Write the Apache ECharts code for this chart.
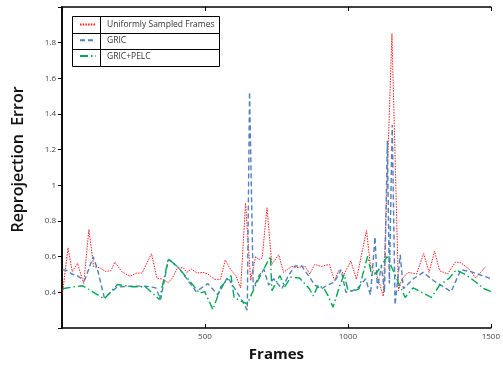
<!DOCTYPE html>
<html>
<head>
<meta charset="utf-8">
<script src="https://cdn.jsdelivr.net/npm/echarts@6/dist/echarts.min.js"></script>
<style>html,body{margin:0;padding:0;background:#fff;}#c{width:503px;height:367px;}</style>
</head>
<body>
<div id="c"></div>
<script>
var seriesNames = ['Uniformly Sampled Frames', 'GRIC', 'GRIC+PELC'];
var xTicks = [500, 1000, 1500];
var yTicks = [0.4, 0.6, 0.8, 1, 1.2, 1.4, 1.6, 1.8];

var uniformX = [2,21,36,54,76,94,111,131,151,171,185,209,238,261,280,313,332,353,372,386,403,424,436,453,472,493,510,533,554,571,591,608,625,642,660,677,689,700,717,734,758,775,803,826,849,867,884,907,935,953,970,987,1010,1030,1065,1079,1102,1124,1154,1177,1189,1211,1240,1265,1284,1303,1321,1349,1376,1395,1424,1447,1482];
var uniformY = [0.395,0.65,0.516,0.563,0.449,0.752,0.543,0.539,0.518,0.521,0.570,0.516,0.490,0.508,0.508,0.617,0.480,0.473,0.454,0.480,0.534,0.539,0.512,0.530,0.508,0.512,0.503,0.473,0.473,0.581,0.525,0.494,0.425,0.90,0.467,0.60,0.584,0.593,0.874,0.557,0.611,0.512,0.545,0.539,0.548,0.503,0.557,0.545,0.557,0.467,0.527,0.503,0.576,0.473,0.747,0.548,0.494,0.377,1.85,0.41,0.476,0.512,0.503,0.617,0.512,0.63,0.521,0.503,0.57,0.566,0.53,0.48,0.545];

var gricX = [2,21,34,52,79,109,124,148,193,248,293,328,345,372,407,469,510,545,579,625,648,656,669,689,706,723,740,769,792,815,838,866,884,907,924,953,976,993,1014,1039,1062,1079,1095,1103,1117,1128,1138,1145,1155,1165,1183,1194,1229,1263,1303,1361,1395,1430,1470,1500];
var gricY = [0.527,0.52,0.503,0.494,0.467,0.60,0.53,0.37,0.43,0.435,0.435,0.425,0.36,0.585,0.54,0.404,0.449,0.386,0.485,0.368,0.30,1.524,0.42,0.494,0.53,0.44,0.476,0.42,0.494,0.548,0.548,0.485,0.44,0.42,0.436,0.458,0.527,0.40,0.407,0.431,0.476,0.386,0.71,0.42,0.55,0.40,1.25,0.45,1.34,0.33,0.61,0.42,0.476,0.512,0.462,0.404,0.527,0.516,0.494,0.476];

var pelcX = [2,38,72,148,194,246,292,341,372,407,482,499,528,556,591,602,631,648,677,700,729,734,762,779,800,831,865,879,896,917,931,948,972,987,1000,1021,1039,1069,1084,1102,1137,1171,1200,1228,1292,1321,1355,1378,1413,1447,1476,1500];
var pelcY = [0.42,0.43,0.437,0.363,0.444,0.431,0.431,0.36,0.588,0.539,0.395,0.404,0.303,0.431,0.494,0.37,0.348,0.335,0.44,0.512,0.603,0.41,0.494,0.431,0.485,0.48,0.42,0.38,0.44,0.42,0.38,0.317,0.44,0.50,0.413,0.407,0.42,0.603,0.49,0.512,0.60,0.476,0.371,0.425,0.371,0.44,0.48,0.525,0.498,0.458,0.42,0.405];

function pairs(xs, ys) { return xs.map(function (x, i) { return [x, ys[i]]; }); }

var chart = echarts.init(document.getElementById('c'), null, {renderer: 'canvas'});
var fontFam = '"Open Sans", "DejaVu Sans", sans-serif';
var labelStyle = {fontSize: 8, color: '#444', fontFamily: fontFam};

chart.setOption({
  animation: false,
  backgroundColor: '#fff',
  grid: {left: 62, right: 6, top: 7, bottom: 31},
  xAxis: [{
    type: 'value', min: 0, max: 1500, interval: 500, position: 'bottom',
    name: 'Frames', nameLocation: 'middle', nameGap: 19,
    nameTextStyle: {fontSize: 15, fontWeight: 'bold', color: '#111', fontFamily: fontFam},
    axisLine: {lineStyle: {color: '#000', width: 1.5}},
    axisTick: {inside: true, length: 4, lineStyle: {color: '#000'}},
    axisLabel: Object.assign({margin: 5, formatter: function (v) { return xTicks.indexOf(v) >= 0 ? String(v) : ''; }}, labelStyle),
    splitLine: {show: false}
  }, {
    type: 'value', min: 0, max: 1500, interval: 500, position: 'top',
    axisLine: {lineStyle: {color: '#000', width: 1.5}},
    axisTick: {inside: true, length: 4, lineStyle: {color: '#000'}},
    axisLabel: {show: false}, splitLine: {show: false}
  }],
  yAxis: [{
    type: 'value', min: 0.2, max: 2.0, interval: 0.2, position: 'left',
    name: 'Reprojection  Error', nameLocation: 'middle', nameGap: 36,
    nameTextStyle: {fontSize: 16, fontWeight: 600, color: '#111', fontFamily: fontFam, padding: [0, 0, 0, 16]},
    axisLine: {show: true, lineStyle: {color: '#000', width: 1.5}},
    axisTick: {show: true, length: 4, lineStyle: {color: '#000'}},
    axisLabel: Object.assign({margin: 6, formatter: function (v) {
      var r = Math.round(v * 10) / 10;
      return yTicks.indexOf(r) >= 0 ? String(r) : '';
    }}, labelStyle),
    splitLine: {show: false}
  }, {
    type: 'value', min: 0.2, max: 2.0, interval: 0.2, position: 'right',
    axisLine: {show: true, lineStyle: {color: '#000', width: 1.5}},
    axisTick: {show: true, inside: true, length: 4, lineStyle: {color: '#000'}},
    axisLabel: {show: false}, splitLine: {show: false}
  }],
  legend: {
    orient: 'vertical', left: 74, top: 15, itemWidth: 16, itemHeight: 8, itemGap: 6.8,
    data: seriesNames,
    itemStyle: {opacity: 0},
    textStyle: {fontSize: 8.5, color: '#333', fontFamily: fontFam, padding: [0, 0, 0, 6]}
  },
  graphic: [
    {type: 'rect', shape: {x: 72.5, y: 16.5, width: 147, height: 50}, style: {fill: 'none', stroke: '#000', lineWidth: 1}, z: 100},
    {type: 'line', shape: {x1: 72.5, y1: 33.5, x2: 219.5, y2: 33.5}, style: {stroke: '#000', lineWidth: 1}, z: 100},
    {type: 'line', shape: {x1: 72.5, y1: 49.5, x2: 219.5, y2: 49.5}, style: {stroke: '#000', lineWidth: 1}, z: 100},
    {type: 'line', shape: {x1: 100.5, y1: 16.5, x2: 100.5, y2: 66.5}, style: {stroke: '#000', lineWidth: 1}, z: 100}
  ],
  series: [{
    name: seriesNames[0], type: 'line', symbol: 'none', data: pairs(uniformX, uniformY),
    lineStyle: {color: '#ff1a1a', width: 1, type: [1.5, 1.2]}, itemStyle: {color: '#ff1a1a'}
  }, {
    name: seriesNames[1], type: 'line', symbol: 'none', data: pairs(gricX, gricY),
    lineStyle: {color: '#4f81bd', width: 1.4, type: [5, 3]}, itemStyle: {color: '#4f81bd'}
  }, {
    name: seriesNames[2], type: 'line', symbol: 'none', data: pairs(pelcX, pelcY),
    lineStyle: {color: '#00a84f', width: 1.4, type: [8, 3, 1.5, 3]}, itemStyle: {color: '#00a84f'}
  }]
});
</script>
</body>
</html>
